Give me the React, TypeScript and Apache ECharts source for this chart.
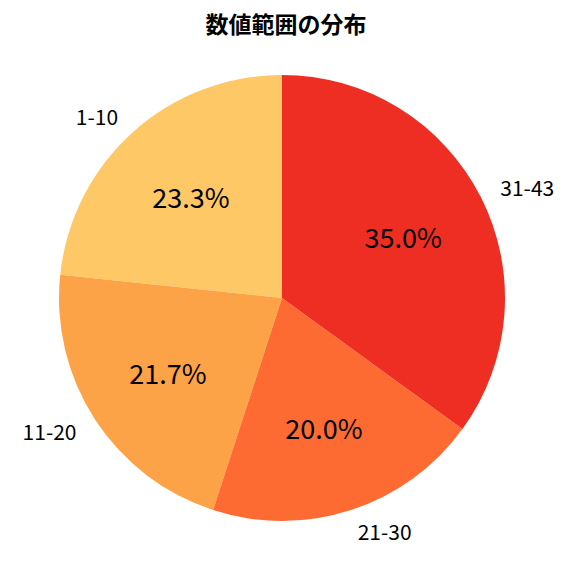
import { useRef, useEffect } from "react";
import * as echarts from "echarts";

const titleText = "数値範囲の分布";
const categories = ["1-10", "11-20", "21-30", "31-43"];
const counts = [14, 13, 12, 21];
const sliceColors = ["#fdc865", "#fba346", "#fd6b33", "#ee2e22"];

const FONT = "Noto Sans CJK JP";

const App = () => {
  const chartRef = useRef<HTMLDivElement>(null);

  useEffect(() => {
    if (!chartRef.current) return;
    const myChart = echarts.init(chartRef.current, null, { renderer: "svg" });
    const total = counts.reduce((a, b) => a + b, 0);
    const pieData = categories.map((name, i) => ({
      name,
      value: counts[i],
      itemStyle: { color: sliceColors[i] },
    }));

    myChart.setOption({
      animation: false,
      title: {
        text: titleText,
        left: 281,
        top: 6,
        textAlign: "center",
        textStyle: {
          fontFamily: FONT,
          fontSize: 23,
          fontWeight: "bold",
          color: "#000",
        },
      },
      series: [
        {
          // pie with outside category labels
          type: "pie",
          center: [282, 298],
          radius: [0, 223],
          startAngle: 90,
          clockwise: false,
          avoidLabelOverlap: false,
          silent: true,
          itemStyle: { borderWidth: 0 },
          label: {
            show: true,
            position: "outside",
            formatter: "{b}",
            fontFamily: FONT,
            fontSize: 21,
            color: "#000",
            distanceToLabelLine: 0,
          },
          labelLine: { show: false, length: 22, length2: 0 },
          data: pieData,
        },
        {
          // transparent pie used only to place the percentage labels
          type: "pie",
          center: [282, 298],
          radius: [0, 266],
          startAngle: 90,
          clockwise: false,
          avoidLabelOverlap: false,
          silent: true,
          z: 3,
          itemStyle: { color: "rgba(0,0,0,0)", borderWidth: 0 },
          label: {
            show: true,
            position: "inside",
            formatter: (p: any) => ((p.value / total) * 100).toFixed(1) + "%",
            fontFamily: FONT,
            fontSize: 27,
            color: "#000",
          },
          labelLine: { show: false },
          data: categories.map((name, i) => ({ name, value: counts[i] })),
        },
      ],
    });

    return () => {
      myChart.dispose();
    };
  }, []);

  return (
    <div
      ref={chartRef}
      style={{ position: "absolute", left: 0, top: 0, width: 576, height: 576, background: "#fff" }}
    ></div>
  );
};

export default App;
